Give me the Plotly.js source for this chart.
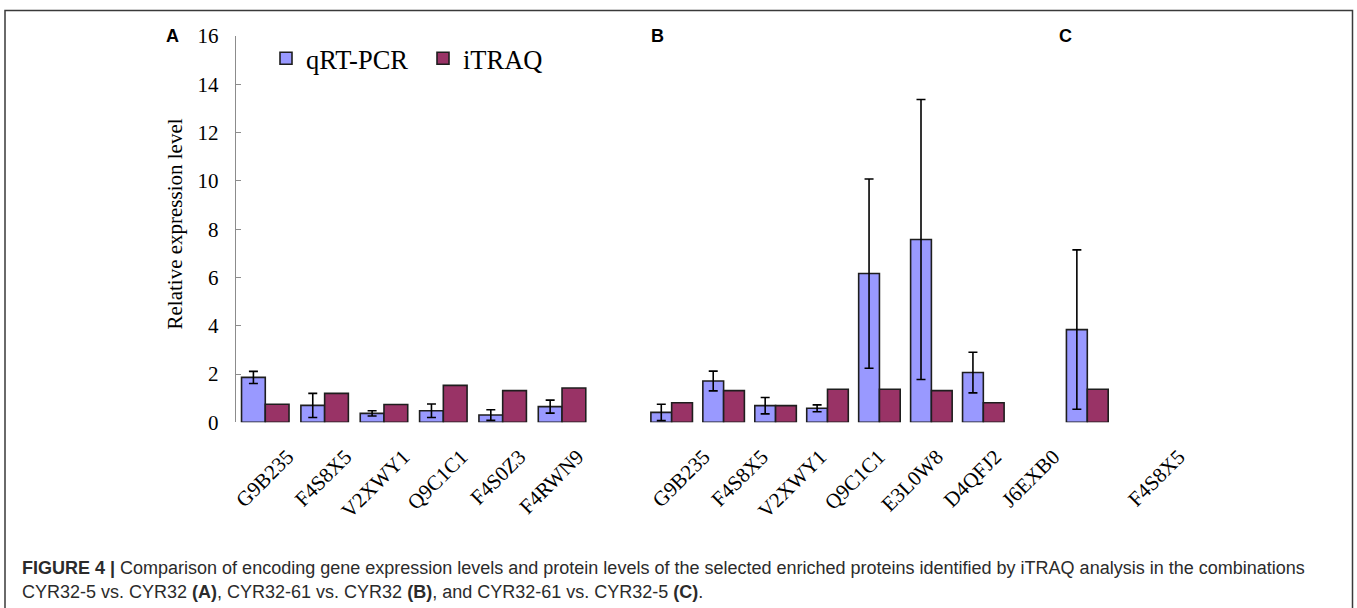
<!DOCTYPE html>
<html>
<head>
<meta charset="utf-8">
<script src="https://cdn.plot.ly/plotly-3.0.1.min.js"></script>
<style>html,body{margin:0;padding:0;background:#fff;}#chart{width:1357px;height:608px;}</style>
</head>
<body>
<div id="chart"></div>
<script>
// ---- Data ----
const seriesNames = ['qRT-PCR', 'iTRAQ'];
const catsA = ['G9B235', 'F4S8X5', 'V2XWY1', 'Q9C1C1', 'F4S0Z3', 'F4RWN9'];
const qrtA = [1.86, 0.70, 0.37, 0.48, 0.30, 0.65];
const qrtAErr = [0.25, 0.50, 0.11, 0.28, 0.22, 0.27];
const itraqA = [0.75, 1.20, 0.74, 1.53, 1.31, 1.42];

const catsB = ['G9B235', 'F4S8X5', 'V2XWY1', 'Q9C1C1', 'E3L0W8', 'D4QFJ2', 'J6EXB0'];
const qrtB = [0.41, 1.71, 0.69, 0.58, 6.16, 7.57, 2.06];
const qrtBErr = [0.34, 0.41, 0.34, 0.14, 3.92, 5.80, 0.84];
const itraqB = [0.81, 1.31, 0.69, 1.37, 1.37, 1.31, 0.81];

const catsC = ['F4S8X5'];
const qrtC = [3.84];
const qrtCErr = [3.30];
const itraqC = [1.37];

const yTicks = [0, 2, 4, 6, 8, 10, 12, 14, 16];
const panelLabels = ['A', 'B', 'C'];
const yTitle = 'Relative expression level';
const captionLine1 = '<b>FIGURE 4 |</b> Comparison of encoding gene expression levels and protein levels of the selected enriched proteins identified by iTRAQ analysis in the combinations';
const captionLine2 = 'CYR32-5 vs. CYR32 <b>(A)</b>, CYR32-61 vs. CYR32 <b>(B)</b>, and CYR32-61 vs. CYR32-5 <b>(C)</b>.';

// ---- Styling ----
const W = 1357, H = 608;
const blue = '#9999ff', wine = '#993366', outline = '#1e1e1e';
const serif = 'Liberation Serif, Times New Roman, serif';
const sans = 'Liberation Sans, Arial, sans-serif';
const px = v => v / W;
const py = v => (H - v) / H;

function qrtTrace(x, y, err, xa, show) {
  return {
    type: 'bar', name: seriesNames[0], x: x, y: y, xaxis: xa, yaxis: 'y',
    legendgroup: 'q', showlegend: show,
    marker: {color: blue, line: {color: outline, width: 1.6}},
    error_y: {type: 'data', array: err, visible: true, color: '#000', thickness: 1.6, width: 4.5}
  };
}
function itraqTrace(x, y, xa, show) {
  return {
    type: 'bar', name: seriesNames[1], x: x, y: y, xaxis: xa, yaxis: 'y',
    legendgroup: 'i', showlegend: show,
    marker: {color: wine, line: {color: outline, width: 1.6}}
  };
}
// transparent helper so the label-only axes get drawn (no visible marks)
function labelCarrier(x, y, xa) {
  return {
    type: 'scatter', mode: 'markers', x: x, y: y, xaxis: xa, yaxis: 'y',
    showlegend: false, hoverinfo: 'skip', marker: {opacity: 0, size: 1}
  };
}

const data = [
  qrtTrace(catsA, qrtA, qrtAErr, 'x', true),
  itraqTrace(catsA, itraqA, 'x', true),
  qrtTrace(catsB, qrtB, qrtBErr, 'x2', false),
  itraqTrace(catsB, itraqB, 'x2', false),
  qrtTrace(catsC, qrtC, qrtCErr, 'x3', false),
  itraqTrace(catsC, itraqC, 'x3', false),
  labelCarrier(catsA, itraqA, 'x4'),
  labelCarrier(catsB, itraqB, 'x5'),
  labelCarrier(catsC, itraqC, 'x6')
];

const tickFont = {family: serif, size: 21, color: '#000'};
const xCommon = {
  type: 'category', anchor: 'y', showline: false, showgrid: false, zeroline: false,
  ticks: '', tickangle: -45, tickfont: tickFont,
  ticklabelshift: 26, ticklabelstandoff: 17, automargin: false
};
// label-only axes: the category labels sit on their own pitch, offset from the bars as in the figure
function labelAxis(n, domain) {
  return Object.assign({}, xCommon, {domain: domain, range: [-0.5, n - 0.5], fixedrange: true});
}

const layout = {
  width: W, height: H,
  margin: {l: 0, r: 0, t: 0, b: 0},
  paper_bgcolor: '#fff', plot_bgcolor: 'rgba(0,0,0,0)',
  barmode: 'group', bargap: 0.2, bargroupgap: 0,
  showlegend: true,
  legend: {
    orientation: 'h', x: px(266), xanchor: 'left', y: py(58.5), yanchor: 'middle',
    font: {family: serif, size: 26.5, color: '#000'},
    entrywidth: 112, entrywidthmode: 'pixels', bgcolor: 'rgba(0,0,0,0)', traceorder: 'normal'
  },
  xaxis: Object.assign({}, xCommon, {domain: [px(235.6), px(591.7)], showticklabels: false}),
  xaxis2: Object.assign({}, xCommon, {domain: [px(645.7), px(1009.3)], showticklabels: false}),
  xaxis3: Object.assign({}, xCommon, {domain: [px(1061.2), px(1113.4)], showticklabels: false}),
  xaxis4: labelAxis(catsA.length, [px(232.5), px(580.5)]),
  xaxis5: labelAxis(catsB.length, [px(648.7), px(1056.6)]),
  xaxis6: labelAxis(catsC.length, [px(1123.7), px(1181.9)]),
  yaxis: {
    domain: [py(422.3), py(36)], range: [0, 16], anchor: 'x',
    tickvals: yTicks, ticktext: yTicks.map(String),
    showline: true, linecolor: '#8c8c8c', linewidth: 1,
    ticks: 'inside', ticklen: 5, tickcolor: '#8c8c8c',
    showgrid: false, zeroline: false,
    tickfont: {family: serif, size: 21, color: '#000'},
    ticklabelstandoff: 12, automargin: false
  },
  shapes: [
    {type: 'rect', xref: 'paper', yref: 'paper', x0: px(5), x1: px(1352.5), y0: -0.02, y1: py(10.5),
     line: {color: '#3a3a3a', width: 1.5}, fillcolor: 'rgba(0,0,0,0)'}
  ],
  annotations: [
    {xref: 'paper', yref: 'paper', x: px(172), y: py(36), text: panelLabels[0], showarrow: false,
     font: {family: sans, size: 18, color: '#000', weight: 'bold'}, xanchor: 'center', yanchor: 'middle'},
    {xref: 'paper', yref: 'paper', x: px(657.5), y: py(36), text: panelLabels[1], showarrow: false,
     font: {family: sans, size: 18, color: '#000', weight: 'bold'}, xanchor: 'center', yanchor: 'middle'},
    {xref: 'paper', yref: 'paper', x: px(1065), y: py(36), text: panelLabels[2], showarrow: false,
     font: {family: sans, size: 18, color: '#000', weight: 'bold'}, xanchor: 'center', yanchor: 'middle'},
    {xref: 'paper', yref: 'paper', x: px(175), y: py(224.5), text: yTitle, textangle: -90, showarrow: false,
     font: {family: serif, size: 21, color: '#000'}, xanchor: 'center', yanchor: 'middle'},
    {xref: 'paper', yref: 'paper', x: px(20), y: py(567.5), text: captionLine1, showarrow: false, align: 'left',
     font: {family: sans, size: 18, color: '#2b2b2b'}, xanchor: 'left', yanchor: 'middle'},
    {xref: 'paper', yref: 'paper', x: px(20), y: py(592), text: captionLine2, showarrow: false, align: 'left',
     font: {family: sans, size: 18, color: '#2b2b2b'}, xanchor: 'left', yanchor: 'middle'}
  ]
};

Plotly.newPlot('chart', data, layout, {displayModeBar: false, staticPlot: true});
</script>
</body>
</html>
